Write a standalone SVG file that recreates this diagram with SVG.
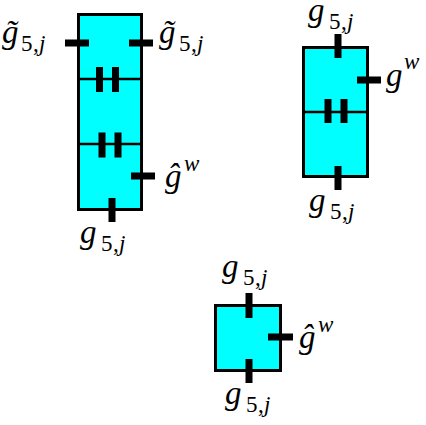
<svg xmlns="http://www.w3.org/2000/svg" width="426" height="425" viewBox="0 0 426 425">
<style>
.box{fill:#00ffff;stroke:#000;stroke-width:3}
.div{stroke:#000;stroke-width:2.5;fill:none}
.stub{fill:#000}
.g{font-style:italic;font-size:33px}
.s{font-style:normal;font-size:23px}
.i{font-style:italic;font-size:23px}
</style>
<rect width="426" height="425" fill="#fff"/>
<g id="node-left">
<rect class="box" x="78.5" y="14.5" width="63" height="195"/>
<line class="div" x1="78.5" y1="79" x2="141.5" y2="79"/>
<line class="div" x1="78.5" y1="144" x2="141.5" y2="144"/>
</g>
<g id="node-right">
<rect class="box" x="303.5" y="47.5" width="64" height="129"/>
<line class="div" x1="303.5" y1="112" x2="367.5" y2="112"/>
</g>
<g id="node-small">
<rect class="box" x="215.5" y="305.5" width="65" height="65"/>
</g>
<g id="connectors">
<rect class="stub" x="96" y="67" width="7" height="25"/>
<rect class="stub" x="112" y="67" width="7" height="25"/>
<rect class="stub" x="98.5" y="132.5" width="7" height="25"/>
<rect class="stub" x="114.5" y="132.5" width="7" height="25"/>
<rect class="stub" x="65" y="39.5" width="24" height="7"/>
<rect class="stub" x="129" y="39.5" width="24" height="7"/>
<rect class="stub" x="131" y="172.5" width="24" height="7"/>
<rect class="stub" x="108.5" y="198" width="7" height="24"/>
<rect class="stub" x="334.5" y="34" width="7" height="24"/>
<rect class="stub" x="357" y="76.5" width="24" height="7"/>
<rect class="stub" x="324.5" y="99" width="7" height="24"/>
<rect class="stub" x="340.5" y="99" width="7" height="24"/>
<rect class="stub" x="334.5" y="166" width="7" height="24"/>
<rect class="stub" x="245.5" y="293" width="7" height="25"/>
<rect class="stub" x="268" y="333.5" width="25" height="7"/>
<rect class="stub" x="245.5" y="359" width="7" height="24"/>
</g>
<g id="labels" font-family="Liberation Serif, serif" fill="#000">
<text y="43"><tspan class="g" x="2">g̃</tspan><tspan class="s" x="21" y="51">5</tspan><tspan class="s" x="33">,</tspan><tspan class="i" x="39">j</tspan></text>
<text y="43"><tspan class="g" x="159">g̃</tspan><tspan class="s" x="179" y="51">5</tspan><tspan class="s" x="191">,</tspan><tspan class="i" x="197">j</tspan></text>
<text y="187"><tspan class="g" x="165">ĝ</tspan><tspan class="i" x="184" y="171">w</tspan></text>
<text y="243"><tspan class="g" x="80">g</tspan><tspan class="s" x="101" y="251">5</tspan><tspan class="s" x="113">,</tspan><tspan class="i" x="119">j</tspan></text>
<text y="21"><tspan class="g" x="308">g</tspan><tspan class="s" x="329" y="29">5</tspan><tspan class="s" x="341">,</tspan><tspan class="i" x="347">j</tspan></text>
<text y="86"><tspan class="g" x="386">g</tspan><tspan class="i" x="404" y="69">w</tspan></text>
<text y="211"><tspan class="g" x="309">g</tspan><tspan class="s" x="330" y="219">5</tspan><tspan class="s" x="342">,</tspan><tspan class="i" x="348">j</tspan></text>
<text y="277"><tspan class="g" x="222">g</tspan><tspan class="s" x="243" y="285">5</tspan><tspan class="s" x="255">,</tspan><tspan class="i" x="261">j</tspan></text>
<text y="348"><tspan class="g" x="299">ĝ</tspan><tspan class="i" x="318" y="332">w</tspan></text>
<text y="404"><tspan class="g" x="225">g</tspan><tspan class="s" x="246" y="412">5</tspan><tspan class="s" x="258">,</tspan><tspan class="i" x="264">j</tspan></text>
</g>
</svg>
